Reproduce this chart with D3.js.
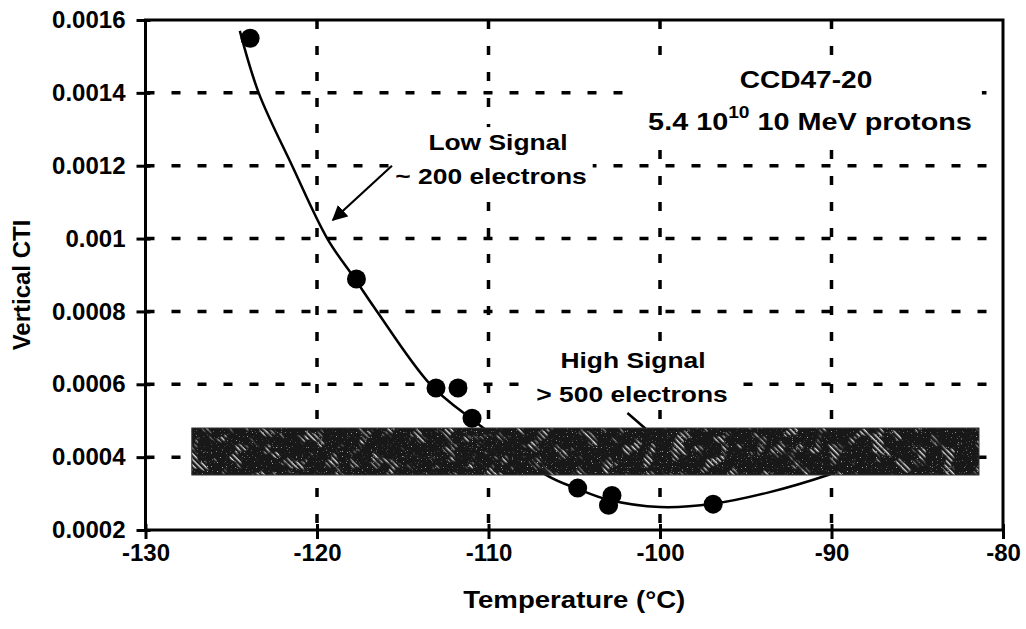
<!DOCTYPE html>
<html>
  <head>
    <meta charset="utf-8">
    <title>Vertical CTI vs temperature</title>
    <style>
      body {
        margin: 0;
        background: #fff;
      }
      text {
        font-family: "Liberation Sans", Arial, sans-serif;
        font-weight: bold;
        fill: #000;
      }
      .grid line {
        stroke: #000;
        stroke-width: 3.5;
        stroke-dasharray: 9, 17;
      }
      .axis path, .axis line {
        stroke: #000;
        stroke-width: 3;
      }
    </style>
  </head>
  <body>
    <svg width="1026" height="629"></svg>
    <script src="https://cdn.jsdelivr.net/npm/d3@7"></script>
    <script>
      // measured points
      var tempC = [-123.9, -117.7, -113.06, -111.78, -110.96, -104.8, -103.0, -102.8, -96.9];
      var cti = [0.00155, 0.000889, 0.00059, 0.00059, 0.000507, 0.000315, 0.000268, 0.000295, 0.000271];

      // fitted curve
      var fitT = [-124.5, -123.4, -121.45, -119.4, -117.8, -116.5, -113.4, -111.0, -110.3, -106.6, -104.8, -103.0, -100.0, -96.9, -93.6, -90.2, -89.8];
      var fitV = [0.00157, 0.0014, 0.0012, 0.001, 0.00089, 0.0008, 0.0006, 0.000505, 0.00048, 0.00035, 0.000313, 0.000283, 0.000263, 0.000272, 0.000304, 0.000351, 0.000358];

      // high signal band
      var bandT = [-127.3, -81.4];
      var bandV = [0.000351, 0.00048];

      var xTicks = [-130, -120, -110, -100, -90, -80];
      var xTickLabels = ["-130", "-120", "-110", "-100", "-90", "-80"];
      var yTicks = [0.0002, 0.0004, 0.0006, 0.0008, 0.001, 0.0012, 0.0014, 0.0016];
      var yTickLabels = ["0.0002", "0.0004", "0.0006", "0.0008", "0.001", "0.0012", "0.0014", "0.0016"];

      var svg = d3.select("svg");
      var plotLeft = 145.5, plotRight = 1003, plotTop = 20, plotBottom = 530;

      var x = d3.scaleLinear().domain([-130, -80]).range([plotLeft, plotRight]);
      var y = d3.scaleLinear().domain([0.0002, 0.0016]).range([plotBottom, plotTop]);

      // centred text, a little wider than the font to match the scan
      function label(parent, str, cx, base, size, sx) {
        return parent.append("text")
            .attr("transform", `translate(${cx},${base}) scale(${sx},1)`)
            .attr("text-anchor", "middle")
            .attr("font-size", size)
            .text(str);
      }
      // white box behind a group of labels, hides the grid like the original
      function backing(g, padX, padY) {
        var b = g.node().getBBox();
        g.insert("rect", ":first-child")
            .attr("x", b.x - padX).attr("y", b.y - padY)
            .attr("width", b.width + 2 * padX).attr("height", b.height + 2 * padY)
            .attr("fill", "#fff");
      }

      // textures for the band
      var defs = svg.append("defs");
      defs.append("pattern")
          .attr("id", "hatch")
          .attr("width", 4).attr("height", 4)
          .attr("patternUnits", "userSpaceOnUse")
          .attr("patternTransform", "rotate(45)")
        .append("rect")
          .attr("width", 4).attr("height", 1.4)
          .attr("fill", "#e0e0e0");
      var f = defs.append("filter").attr("id", "blotch")
          .attr("x", 0).attr("y", 0).attr("width", 1).attr("height", 1);
      f.append("feTurbulence")
          .attr("type", "fractalNoise")
          .attr("baseFrequency", 0.07)
          .attr("numOctaves", 2)
          .attr("seed", 7);
      f.append("feColorMatrix")
          .attr("type", "matrix")
          .attr("values", "0 0 0 0 1  0 0 0 0 1  0 0 0 0 1  8 0 0 0 -4.5");
      var f2 = defs.append("filter").attr("id", "grain")
          .attr("x", 0).attr("y", 0).attr("width", 1).attr("height", 1);
      f2.append("feTurbulence")
          .attr("type", "fractalNoise")
          .attr("baseFrequency", 0.8)
          .attr("numOctaves", 1)
          .attr("seed", 3);
      f2.append("feColorMatrix")
          .attr("type", "matrix")
          .attr("values", "0 0 0 0 1  0 0 0 0 1  0 0 0 0 1  9 0 0 0 -6.0");

      var bx = x(bandT[0]), bw = x(bandT[1]) - x(bandT[0]);
      var by = y(bandV[1]), bh = y(bandV[0]) - y(bandV[1]);
      var mask = defs.append("mask").attr("id", "spots");
      mask.append("rect")
          .attr("x", bx).attr("y", by).attr("width", bw).attr("height", bh)
          .attr("fill", "#fff")
          .attr("filter", "url(#blotch)");
      var mask2 = defs.append("mask").attr("id", "grainmask");
      mask2.append("rect")
          .attr("x", bx).attr("y", by).attr("width", bw).attr("height", bh)
          .attr("fill", "#fff")
          .attr("filter", "url(#grain)");

      // grid
      svg.append("g")
          .attr("class", "grid")
          .selectAll("line")
          .data(yTicks.slice(1, -1))
          .enter()
          .append("line")
          .attr("x1", plotLeft).attr("x2", plotRight)
          .attr("y1", d => y(d)).attr("y2", d => y(d));
      svg.append("g")
          .attr("class", "grid")
          .selectAll("line")
          .data(xTicks.slice(1, -1))
          .enter()
          .append("line")
          .attr("y1", plotTop).attr("y2", plotBottom)
          .attr("x1", d => x(d)).attr("x2", d => x(d));

      // legend text and annotations, boxed in white over the grid
      var legend = svg.append("g");
      label(legend, "CCD47-20", 806, 88, 24, 1.17);
      var t2 = label(legend, "", 810, 130, 24, 1.2);
      t2.append("tspan").text("5.4 10");
      t2.append("tspan").attr("dy", -12).attr("font-size", 16).text("10");
      t2.append("tspan").attr("dy", 12).text(" 10 MeV protons");
      backing(legend, 10, 8);

      var low = svg.append("g");
      label(low, "Low Signal", 498, 150, 22, 1.2);
      label(low, "~ 200 electrons", 491, 184, 22, 1.2);
      backing(low, 6, 3);

      var high = svg.append("g");
      label(high, "High Signal", 633, 368, 22, 1.2);
      label(high, "> 500 electrons", 632, 402, 22, 1.2);
      backing(high, 6, 3);

      // fitted curve
      var line = d3.line()
          .x((d, i) => x(fitT[i]))
          .y(d => y(d))
          .curve(d3.curveCatmullRom.alpha(0.5));
      svg.append("path")
          .attr("d", line(fitV))
          .attr("fill", "none")
          .attr("stroke", "#000")
          .attr("stroke-width", 2.5);

      // high signal pointer, runs under the band
      svg.append("line")
          .attr("x1", x(-101.9)).attr("y1", y(0.000521))
          .attr("x2", x(-100.4)).attr("y2", y(0.00046))
          .attr("stroke", "#000").attr("stroke-width", 2.5);

      // band
      svg.append("rect")
          .attr("x", bx).attr("y", by).attr("width", bw).attr("height", bh)
          .attr("fill", "#181818");
      svg.append("rect")
          .attr("x", bx).attr("y", by).attr("width", bw).attr("height", bh)
          .attr("fill", "url(#hatch)")
          .attr("mask", "url(#spots)");
      svg.append("rect")
          .attr("x", bx).attr("y", by).attr("width", bw).attr("height", bh)
          .attr("fill", "#aaa")
          .attr("mask", "url(#grainmask)");
      svg.append("rect")
          .attr("x", bx).attr("y", by).attr("width", bw).attr("height", bh)
          .attr("fill", "none")
          .attr("stroke", "#333").attr("stroke-width", 1);

      // points
      svg.append("g")
          .selectAll("circle")
          .data(cti)
          .enter()
          .append("circle")
          .attr("cx", (d, i) => x(tempC[i]))
          .attr("cy", d => y(d))
          .attr("r", 9.5)
          .attr("fill", "#000");

      // frame
      svg.append("rect")
          .attr("x", plotLeft).attr("y", plotTop)
          .attr("width", plotRight - plotLeft).attr("height", plotBottom - plotTop)
          .attr("fill", "none")
          .attr("stroke", "#000").attr("stroke-width", 3);

      // axes
      var yAxis = svg.append("g")
          .attr("class", "axis")
          .attr("transform", `translate(${plotLeft},0)`)
          .call(d3.axisLeft(y).tickValues(yTicks).tickSize(9).tickPadding(11)
                .tickFormat((d, i) => yTickLabels[i]));
      yAxis.select(".domain").remove();
      yAxis.selectAll(".tick line").attr("x1", 5);
      yAxis.selectAll(".tick text")
          .attr("font-size", 24)
          .attr("font-family", null);

      var xAxis = svg.append("g")
          .attr("class", "axis")
          .attr("transform", `translate(0,${plotBottom})`)
          .call(d3.axisBottom(x).tickValues(xTicks).tickSize(9).tickPadding(5)
                .tickFormat((d, i) => xTickLabels[i]));
      xAxis.select(".domain").remove();
      xAxis.selectAll(".tick line").attr("y1", -6);
      xAxis.selectAll(".tick text")
          .attr("font-size", 24)
          .attr("font-family", null);

      // axis titles
      label(svg, "Temperature (°C)", (plotLeft + plotRight) / 2, 608, 23, 1.2);
      svg.append("text")
          .attr("transform", "translate(30,285) rotate(-90)")
          .attr("text-anchor", "middle")
          .attr("font-size", 24)
          .text("Vertical CTI");

      // low signal arrow
      defs.append("marker")
          .attr("id", "head")
          .attr("viewBox", "0 0 10 10")
          .attr("refX", 9).attr("refY", 5)
          .attr("markerWidth", 7).attr("markerHeight", 7)
          .attr("markerUnits", "strokeWidth")
          .attr("orient", "auto")
        .append("path")
          .attr("d", "M0,0L10,5L0,10Z")
          .attr("fill", "#000");
      svg.append("line")
          .attr("x1", x(-115.63)).attr("y1", y(0.0012))
          .attr("x2", x(-119.07)).attr("y2", y(0.001051))
          .attr("stroke", "#000").attr("stroke-width", 2.2)
          .attr("marker-end", "url(#head)");
    </script>
  </body>
</html>
